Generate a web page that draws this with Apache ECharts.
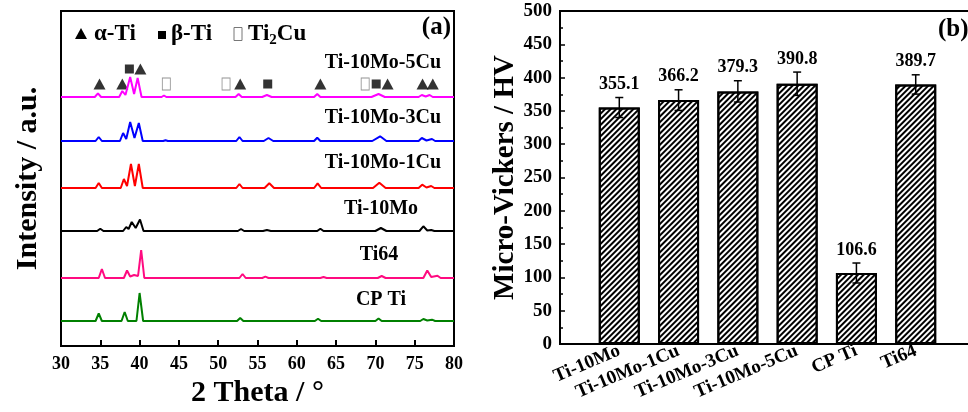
<!DOCTYPE html>
<html>
<head>
<meta charset="utf-8">
<script src="https://cdn.jsdelivr.net/npm/echarts@6.0.0/dist/echarts.min.js"></script>
<style>
  html, body { margin: 0; padding: 0; background: #fff; }
  #main { width: 968px; height: 412px; }
</style>
</head>
<body>
<div id="main"></div>
<script>
// ---- (a) XRD 曲线数据：[2θ, 相对强度] ----
var xrdCPTi = [[30,0],[34.4,0],[34.8,7.5],[35.2,0],[37.7,0],[38.1,9],[38.5,0],[39.6,0],[40.0,28],[40.45,0],
  [52.4,0],[52.8,3],[53.2,0],[62.3,0],[62.7,2.3],[63.1,0],[70.0,0],[70.4,2.5],[70.8,0],
  [75.7,0],[76.1,2],[76.6,0.5],[77.2,1.3],[77.6,0],[80,0]];
var xrdTi64 = [[30,0],[34.8,0],[35.2,9],[35.6,0],[38.0,0],[38.4,7.5],[38.8,1.5],[39.3,3],[39.8,2],[40.2,28],[40.6,0],
  [52.7,0],[53.1,4],[53.5,0],[55.6,0],[56.0,1.3],[56.4,0],[63.0,0],[63.4,1],[63.8,0],[70.3,0],[70.8,2],[71.3,0],
  [76.1,0],[76.6,7.5],[77.1,1],[77.9,2.3],[78.3,0],[80,0]];
var xrdTi10Mo = [[30,0],[34.6,0],[35.0,2.3],[35.4,0],[37.9,0],[38.3,4],[38.6,2],[39.0,9],[39.5,3],[40.05,11.5],[40.5,0],
  [52.5,0],[52.9,2],[53.3,0],[55.7,0],[56.2,1],[56.7,0],[62.6,0],[63.0,2.3],[63.4,0],[70.0,0],[70.7,3],[71.4,0],
  [75.6,0],[76.1,4.7],[76.6,0.5],[77.1,1],[77.5,0],[80,0]];
var xrdTi10Mo1Cu = [[30,0],[34.4,0],[34.8,5],[35.2,0],[37.6,0],[38.0,9],[38.4,2],[38.9,24],[39.4,2],[39.9,24],[40.4,0],
  [52.3,0],[52.7,4],[53.1,0],[55.9,0],[56.5,4.7],[57.1,0],[62.2,0],[62.65,4.7],[63.1,0],[69.7,0],[70.5,5.3],[71.3,0],
  [75.5,0],[75.95,3.3],[76.5,0.5],[77.1,2],[77.5,0],[80,0]];
var xrdTi10Mo3Cu = [[30,0],[34.4,0],[34.8,4],[35.2,0],[37.5,0],[37.9,8],[38.3,2],[38.8,19],[39.35,3],[39.9,18],[40.4,0],
  [43.0,0],[43.3,0.8],[43.6,0],[52.3,0],[52.7,4],[53.1,0],[55.8,0],[56.4,3],[57.0,0],[62.2,0],[62.6,3.3],[63.0,0],
  [69.6,0],[70.6,4.7],[71.4,0],[75.5,0],[75.9,3],[76.5,0.5],[77.2,2],[77.6,0],[80,0]];
var xrdTi10Mo5Cu = [[30,0],[34.3,0],[34.7,3.7],[35.1,0],[37.4,0],[37.8,6],[38.2,2],[38.8,20],[39.3,3],[39.75,19],[40.25,0],
  [42.8,0],[43.1,1.5],[43.4,0],[52.2,0],[52.6,3],[53.0,0],[55.6,0],[56.2,2],[56.8,0],[62.2,0],[62.6,3],[63.0,0],
  [69.5,0],[70.4,3],[71.2,0],[75.5,0],[75.9,2],[76.4,0.5],[76.9,2],[77.3,0],[80,0]];

var xrdNames   = ['CP Ti', 'Ti64', 'Ti-10Mo', 'Ti-10Mo-1Cu', 'Ti-10Mo-3Cu', 'Ti-10Mo-5Cu'];
var xrdData    = [xrdCPTi, xrdTi64, xrdTi10Mo, xrdTi10Mo1Cu, xrdTi10Mo3Cu, xrdTi10Mo5Cu];
var xrdOffsets = [25, 68, 115, 158, 205, 249];   // 曲线纵向错开
var xrdColors  = ['#008000', '#ff0a80', '#000000', '#ff0000', '#0000ff', '#ff00ff'];

// 物相标记 [2θ, 高度]
var alphaPeaks = [[34.9,262],[37.8,262],[52.8,262],[63.0,262],[71.55,262],[76.0,262],[77.3,262],[40.1,277]];
var betaPeaks  = [[38.7,277],[56.3,262],[70.1,262]];
var ti2cuPeaks = [[43.4,262],[51.0,262],[68.7,262]];

// ---- (b) 显微硬度 ----
var sampleNames = ['Ti-10Mo', 'Ti-10Mo-1Cu', 'Ti-10Mo-3Cu', 'Ti-10Mo-5Cu', 'CP Ti', 'Ti64'];
var hardness    = [355.1, 366.2, 379.3, 390.8, 106.6, 389.7];
var hardnessErr = [15, 15.5, 16, 17.5, 15, 14.5];

var FONT = '"Liberation Serif", "Times New Roman", serif';
var myChart = echarts.init(document.getElementById('main'));

var series = [];
for (var i = 0; i < xrdData.length; i++) {
    var off = xrdOffsets[i];
    series.push({
        name: xrdNames[i],
        type: 'line',
        xAxisIndex: 0, yAxisIndex: 0,
        showSymbol: false,
        symbol: 'none',
        lineStyle: { color: xrdColors[i], width: 2 },
        itemStyle: { color: xrdColors[i] },
        silent: true,
        data: xrdData[i].map(function (p) { return [p[0], p[1] + off]; })
    });
}

series.push({
    name: 'α-Ti', type: 'scatter', xAxisIndex: 0, yAxisIndex: 0,
    symbol: 'triangle', symbolSize: [12, 11],
    itemStyle: { color: '#000' }, data: alphaPeaks
});
series.push({
    name: 'β-Ti', type: 'scatter', xAxisIndex: 0, yAxisIndex: 0,
    symbol: 'rect', symbolSize: [9, 9],
    itemStyle: { color: '#000' }, data: betaPeaks
});
series.push({
    name: 'Ti2Cu', type: 'scatter', xAxisIndex: 0, yAxisIndex: 0,
    symbol: 'rect', symbolSize: [8, 12],
    itemStyle: { color: '#fff', borderColor: '#777', borderWidth: 1 }, data: ti2cuPeaks
});

// 柱状图：斜线填充
series.push({
    name: 'HV', type: 'bar', xAxisIndex: 1, yAxisIndex: 1,
    barWidth: 41,
    itemStyle: {
        color: '#fff', borderColor: '#000', borderWidth: 2,
        decal: {
            symbol: 'rect', symbolSize: 1, color: '#000',
            dashArrayX: [1, 0], dashArrayY: [1.2, 2],
            rotation: -Math.PI / 4
        }
    },
    data: hardness.map(function (v, k) { return [k + 1, v]; })
});

// 误差棒 + 数值
series.push({
    name: 'err', type: 'custom', xAxisIndex: 1, yAxisIndex: 1,
    silent: true, z: 5,
    renderItem: function (params, api) {
        var x = api.value(0), v = api.value(1), e = api.value(2);
        var top = api.coord([x, v + e]);
        var bot = api.coord([x, v - e]);
        var st = { stroke: '#000', lineWidth: 1.5 };
        return {
            type: 'group',
            children: [
                { type: 'line', shape: { x1: top[0], y1: top[1], x2: bot[0], y2: bot[1] }, style: st },
                { type: 'line', shape: { x1: top[0] - 4, y1: top[1], x2: top[0] + 4, y2: top[1] }, style: st },
                { type: 'line', shape: { x1: bot[0] - 4, y1: bot[1], x2: bot[0] + 4, y2: bot[1] }, style: st },
                { type: 'text', x: top[0], y: top[1] - 13,
                  style: { text: v.toFixed(1), align: 'center', verticalAlign: 'middle',
                           font: 'bold 18px ' + FONT, fill: '#000' } }
            ]
        };
    },
    data: hardness.map(function (v, k) { return [k + 1, v, hardnessErr[k]]; })
});

function boldText(txt, x, y, size, align) {
    return { type: 'text', x: x, y: y, silent: true,
        style: { text: txt, font: 'bold ' + size + 'px ' + FONT, fill: '#000',
                 align: align || 'left', verticalAlign: 'middle' } };
}

var option = {
    animation: false,
    backgroundColor: '#fff',
    textStyle: { fontFamily: FONT },
    grid: [
        { left: 61, top: 11, width: 393, height: 335, show: true, borderColor: '#000', borderWidth: 2,
          outerBoundsMode: 'none', containLabel: false },
        { left: 560, top: 11, width: 415, height: 333, show: true, borderColor: '#000', borderWidth: 2,
          outerBoundsMode: 'none', containLabel: false }
    ],
    xAxis: [
        {
            gridIndex: 0, type: 'value', min: 30, max: 80, interval: 5,
            axisLine: { lineStyle: { color: '#000', width: 2 } },
            axisTick: { inside: true, length: 6, lineStyle: { color: '#000', width: 2 } },
            axisLabel: { color: '#000', fontSize: 18, fontWeight: 'bold', margin: 9, fontFamily: FONT },
            splitLine: { show: false },
            name: '2 Theta / °', nameLocation: 'middle', nameGap: 29,
            nameTextStyle: { color: '#000', fontSize: 30, fontWeight: 'bold', fontFamily: FONT }
        },
        {
            gridIndex: 1, type: 'value', min: 0, max: 7, interval: 1,
            axisLine: { lineStyle: { color: '#000', width: 2 } },
            axisTick: { show: false },
            axisLabel: {
                color: '#000', fontSize: 19, fontWeight: 'bold', rotate: 23, margin: 6, fontFamily: FONT,
                showMinLabel: true, showMaxLabel: true,
                formatter: function (v) { return sampleNames[v - 1] || ''; }
            },
            splitLine: { show: false }
        }
    ],
    yAxis: [
        {
            gridIndex: 0, type: 'value', min: 0, max: 335,
            axisLine: { show: true, lineStyle: { color: '#000', width: 2 } },
            axisTick: { show: false },
            axisLabel: { show: false },
            splitLine: { show: false },
            name: 'Intensity / a.u.', nameLocation: 'middle', nameGap: 18, nameRotate: 90,
            nameTextStyle: { color: '#000', fontSize: 30, fontWeight: 'bold', fontFamily: FONT }
        },
        {
            gridIndex: 1, type: 'value', min: 0, max: 500, interval: 50,
            axisLine: { show: true, lineStyle: { color: '#000', width: 2 } },
            axisTick: { inside: true, length: 5, lineStyle: { color: '#000', width: 1.5 } },
            minorTick: { show: true, splitNumber: 2, length: 3, lineStyle: { color: '#000', width: 1.5 } },
            axisLabel: { color: '#000', fontSize: 19, fontWeight: 'bold', margin: 8, fontFamily: FONT },
            splitLine: { show: false },
            name: 'Micro-Vickers / HV', nameLocation: 'middle', nameGap: 40, nameRotate: 90,
            nameTextStyle: { color: '#000', fontSize: 29, fontWeight: 'bold', fontFamily: FONT }
        }
    ],
    graphic: [
        // 图例
        { type: 'polygon', shape: { points: [[81, 28], [87, 39], [75, 39]] }, style: { fill: '#000' }, silent: true },
        boldText('α-Ti', 94, 34, 23),
        { type: 'rect', shape: { x: 158, y: 31, width: 8, height: 8 }, style: { fill: '#000' }, silent: true },
        boldText('β-Ti', 171, 34, 23),
        { type: 'rect', shape: { x: 234, y: 27.5, width: 8, height: 13 }, style: { fill: '#fff', stroke: '#777', lineWidth: 1 }, silent: true },
        { type: 'text', x: 248, y: 34, silent: true,
          style: { text: '{a|Ti}{s|2}{a|Cu}', verticalAlign: 'middle', fill: '#000',
                   rich: { a: { font: 'bold 23px ' + FONT, fill: '#000' },
                           s: { font: 'bold 15px ' + FONT, fill: '#000', padding: [12, 0, 0, 0] } } } },
        boldText('(a)', 451, 28, 25, 'right'),
        boldText('(b)', 938, 30, 25, 'left'),
        // 曲线标注
        boldText('Ti-10Mo-5Cu', 441, 63, 20, 'right'),
        boldText('Ti-10Mo-3Cu', 441, 118, 20, 'right'),
        boldText('Ti-10Mo-1Cu', 441, 163, 20, 'right'),
        boldText('Ti-10Mo', 381, 209, 20, 'center'),
        boldText('Ti64', 379, 255, 20, 'center'),
        boldText('CP Ti', 381, 300, 20, 'center')
    ],
    series: series
};

myChart.setOption(option);
</script>
</body>
</html>
